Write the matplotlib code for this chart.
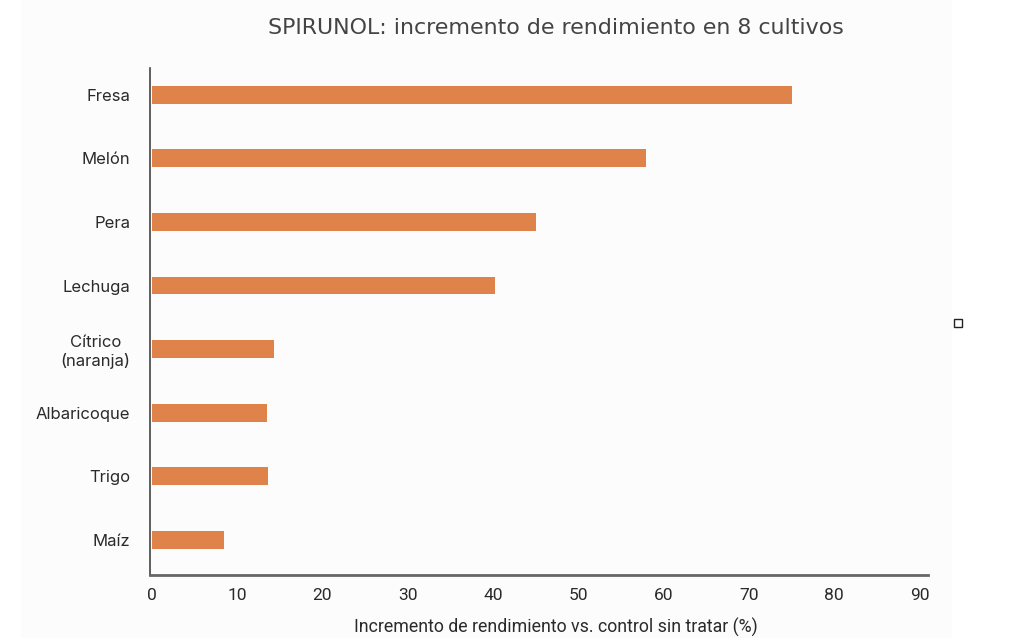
import matplotlib
matplotlib.use("Agg")
import matplotlib.pyplot as plt
from matplotlib.patches import Rectangle

# data
cultivos = ["Fresa", "Melón", "Pera", "Lechuga", "Cítrico\n(naranja)",
            "Albaricoque", "Trigo", "Maíz"]
incremento = [75, 58, 45, 40.3, 14.3, 13.5, 13.6, 8.5]
xticks = [0, 10, 20, 30, 40, 50, 60, 70, 80, 90]

bar_color = "#E0834A"
text_color = "#2a2a2a"

fig = plt.figure(figsize=(10.24, 6.38), dpi=100)
fig.patch.set_facecolor("white")
# very light panel behind the chart
fig.patches.append(Rectangle((21 / 1024, 0), (952 - 21) / 1024, 1,
                             transform=fig.transFigure, facecolor="#fcfcfc",
                             edgecolor="none", zorder=-10))

ax = fig.add_axes([150 / 1024, 1 - 575 / 638, (928 - 150) / 1024, (575 - 68) / 638])
ax.set_facecolor("none")

pos = list(range(len(cultivos)))
ax.barh(pos, incremento, height=0.28, color=bar_color, zorder=2)

ax.set_ylim(len(cultivos) - 0.45, -0.42)
ax.set_xlim(-0.2, 91)
ax.set_yticks(pos)
ax.set_yticklabels(cultivos, fontsize=12, color=text_color, family="Inter",
                   multialignment="center")
ax.set_xticks(xticks)
ax.set_xticklabels([str(t) for t in xticks], fontsize=12.5, color=text_color,
                   family="Roboto")
ax.tick_params(axis="both", length=0)
ax.tick_params(axis="y", pad=14)
ax.tick_params(axis="x", pad=9)

for s in ["top", "right"]:
    ax.spines[s].set_visible(False)
ax.spines["left"].set_color("#444444")
ax.spines["left"].set_linewidth(1.2)
ax.spines["bottom"].set_color("#666666")
ax.spines["bottom"].set_linewidth(2)

fig.text(556 / 1024, 1 - 627 / 638,
         "Incremento de rendimiento vs. control sin tratar (%)",
         ha="center", va="center", fontsize=12.8, color=text_color,
         family="Roboto")

fig.text(556 / 1024, 1 - 28 / 638,
         "SPIRUNOL: incremento de rendimiento en 8 cultivos",
         ha="center", va="center", fontsize=15.9, color="#444444",
         family="DejaVu Sans")

# small hollow square marker at the right edge
fig.patches.append(Rectangle((954 / 1024, 1 - 327 / 638), 8 / 1024, 8 / 638,
                             transform=fig.transFigure, facecolor="white",
                             edgecolor="#222222", linewidth=1))

fig.savefig("out.png", dpi=100)
